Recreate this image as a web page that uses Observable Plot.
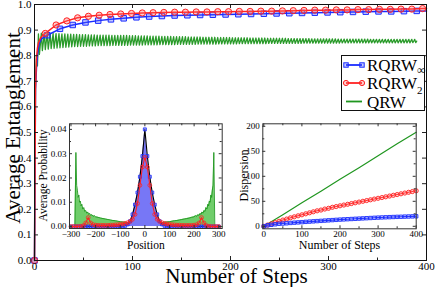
<!DOCTYPE html>
<html><head><meta charset="utf-8">
<script src="https://cdn.jsdelivr.net/npm/d3@7"></script>
<script src="https://cdn.jsdelivr.net/npm/@observablehq/plot@0.6"></script>
<style>
body{margin:0;background:#fff;}
#wrap{position:relative;width:436px;height:287px;overflow:hidden;}
#wrap > svg, #wrap > div{position:absolute;}
</style></head><body><div id="wrap"></div>
<script>
// ---------------- main chart data ----------------
const rInfSteps = [0,1,2,3,4,5,7,10,13,26,39,52,65,78,91,104,117,130,143,156,169,182,195,208,221,234,247,260,273,286,299,312,325,338,351,364,377,390,400];
const rInfVals  = [0,0.67,0.75,0.80,0.83,0.85,0.865,0.874,0.880,0.905,0.920,0.930,0.937,0.942,0.946,0.950,0.953,0.955,0.957,0.958,0.959,0.960,0.961,0.962,0.963,0.964,0.965,0.966,0.967,0.968,0.969,0.970,0.971,0.972,0.973,0.973,0.974,0.975,0.975];
const rInfMarkerSteps = [0,13,26,39,52,65,78,91,104,117,130,143,156,169,182,195,208,221,234,247,260,273,286,299,312,325,338,351,364,377,390];

const r2Steps = [0,1,2,3,4,6,8,11,22,33,44,55,66,77,88,99,110,121,132,143,154,165,176,187,198,209,220,231,242,253,264,275,286,297,308,319,330,341,352,363,374,385,396,400];
const r2Vals  = [0,0.67,0.79,0.83,0.85,0.868,0.878,0.887,0.920,0.936,0.948,0.954,0.958,0.961,0.963,0.965,0.967,0.968,0.969,0.970,0.970,0.971,0.971,0.972,0.972,0.973,0.973,0.974,0.974,0.975,0.976,0.977,0.978,0.978,0.979,0.979,0.980,0.980,0.981,0.981,0.982,0.982,0.984,0.984];
const r2MarkerSteps = [0,11,22,33,44,55,66,77,88,99,110,121,132,143,154,165,176,187,198,209,220,231,242,253,264,275,286,297,308,319,330,341,352,363,374,385,396];

// QRW entanglement, one value per step 0..400 (thousandths)
const qrwVals = [
0,700,800,760,885,805,845,888,820,852,
889,824,855,888,826,856,887,828,857,887,829,857,886,830,858,886,831,858,885,832,
858,885,833,858,884,834,859,884,835,859,883,836,859,883,836,859,882,837,859,882,
837,859,882,837,859,881,838,859,881,838,859,881,838,859,880,839,859,880,839,859,
880,839,859,880,839,859,880,839,859,879,840,859,879,840,859,879,840,859,879,840,
858,879,840,858,879,840,858,878,841,858,878,841,858,878,841,858,877,841,858,877,
841,858,877,842,858,877,842,858,876,842,858,876,842,858,876,842,858,876,843,858,
875,843,858,875,843,858,875,843,858,875,843,858,874,843,858,874,844,858,874,844,
858,874,844,858,874,844,858,873,844,858,873,844,858,873,844,858,873,845,858,873,
845,858,872,845,858,872,845,858,872,845,858,872,845,857,872,845,857,871,846,857,
871,846,857,871,846,857,871,846,857,871,846,857,870,846,857,870,846,857,870,847,
857,870,847,857,870,847,857,870,847,857,869,847,857,869,847,857,869,847,857,869,
847,857,869,847,857,869,847,857,868,848,857,868,848,857,868,848,857,868,848,857,
868,848,857,868,848,857,868,848,857,867,848,857,867,848,857,867,848,857,867,848,
857,867,848,857,867,849,857,867,849,857,867,849,857,866,849,857,866,849,857,866,
849,857,866,849,857,866,849,857,866,849,857,866,849,857,866,849,857,866,849,857,
865,849,857,865,850,857,865,850,857,865,850,857,865,850,857,865,850,857,865,850,
857,865,850,857,865,850,857,865,850,857,865,850,857,864,850,857,864,850,857,864,
850,857,864,850,857,864,850,857,864,850,857,864,850,857,864,850,857,864,850,857,
864,850,857,864,850,857,864,850,857,864,850,857,864,850,857,864,851,857,864,851,
857];

const mainXTicks = [0,100,200,300,400];
const mainXMinor = [50,150,250,350];
const mainYTicks = [0,0.1,0.2,0.3,0.4,0.5,0.6,0.7,0.8,0.9,1];

// ---------------- left inset: average probability vs position ----------------
const qrwPos  = [-306,-290,-284,-280,-277,-274,-271,-268,-265,-262,-259,-256,-252,-248,-244,-240,-236,-232,-228,-224,-220,-215,-210,-205,-200,-190,-180,-170,-160,-150,-140,-130,-120,-110,-100,-90,-80,-70,-60,-50,-40,-30,-20,-10,0,10,20,30,40,50,60,70,80,90,100,110,120,130,140,150,160,170,180,190,200,205,210,215,220,224,228,232,236,240,244,248,252,256,259,262,265,268,271,274,277,280,284,290,314];
const qrwProb = [0,0,0,305,170,150,120,130,100,105,85,92,72,78,62,66,55,60,50,54,46,49,42,45,40,38,35,33,31,29,27,25,24,22,20,19,18,17,16,16,15,15,15,15,15,15,15,15,15,16,16,17,18,19,20,22,24,25,27,29,31,33,35,38,40,45,42,49,46,54,50,60,55,66,62,78,72,92,85,105,100,130,120,150,170,305,0,0,0];

const probPos = [-300,-290,-280,-270,-260,-250,-240,-230,-220,-210,-200,-190,-180,-170,-160,-150,-140,-130,-120,-110,-100,-90,-80,-70,-60,-50,-40,-30,-20,-10,0,10,20,30,40,50,60,70,80,90,100,110,120,130,140,150,160,170,180,190,200,210,220,230,240,250,260,270,280,290,300];
const rInfProb = [0,0,0,0,0,0,0,0,0,0,0,0,0,0,0,0,0,0,0,0,0,1,3,9,22,50,90,140,205,290,400,290,205,140,90,50,22,9,3,1,0,0,0,0,0,0,0,0,0,0,0,0,0,0,0,0,0,0,0,0,0];
const r2Prob   = [0,0,0,0,1,4,15,37,15,8,6,5,5,5,5,5,6,6,7,8,9,11,13,16,21,30,50,95,170,245,285,245,170,95,50,30,21,16,13,11,9,8,7,6,6,5,5,5,5,5,6,8,15,37,15,4,1,0,0,0,0];
const probYTicks = [0,0.01,0.02,0.03,0.04];
const probYMinor = [0.005,0.015,0.025,0.035];
const probXTicks = [-300,-200,-100,0,100,200,300];
const probXMinor = [-250,-150,-50,50,150,250];

// ---------------- right inset: dispersion vs steps ----------------
const dispQrwSteps = [0,50,100,150,200,250,300,350,400];
const dispQrwVals  = [0,23,47,70,94,117,141,165,188];
const dispSteps = [0,10,20,30,40,50,60,70,80,90,100,110,120,130,140,150,160,170,180,190,200,210,220,230,240,250,260,270,280,290,300,310,320,330,340,350,360,370,380,390,400];
const dispR2   = [0,2.5,5,7.5,10,12.5,14.5,17,19,21,23,25,27,29,31,32.5,34.5,36,38,39.5,41,42.5,44,45.5,47,48.5,50,51.5,53,54.5,56,57.5,59,60.5,62,63.5,65,66.5,68,69.5,71];
const dispRInf = [0,2,3,4,5,5.5,6,6.7,7.3,7.8,8.3,8.9,9.4,9.9,10.4,10.9,11.4,11.9,12.4,12.9,13.4,13.8,14.2,14.6,15,15.4,15.8,16.2,16.6,17,17.4,17.7,18,18.3,18.6,18.9,19.1,19.4,19.6,19.8,20];
const dispYTicks = [0,50,100,150,200];
const dispYMinor = [25,75,125,175];
const dispXTicks = [0,100,200,300,400];
const dispXMinor = [50,150,250,350];

// legend
const legendLabels = [["RQRW","∞"],["RQRW","2"],["QRW",""]];

// ---------------- styling ----------------
const SERIF = "'Liberation Serif','Times New Roman',serif";
const BLUE = "#1a2cff", RED = "#ff2222", GREEN = "#1f961f";
const zip = (xs, ys, f = v => v) => xs.map((x, i) => ({x, y: f(ys[i])}));
const pick = (xs, ys, keep) => zip(xs, ys).filter(d => keep.includes(d.x));

function frameTicks(xdom, ydom, w, h, xMaj, xMin, yMaj, yMin, L, l, color) {
  const lx = v => v * (xdom[1] - xdom[0]) / w, ly = v => v * (ydom[1] - ydom[0]) / h;
  const st = {stroke: color, strokeWidth: 1};
  return [
    Plot.ruleX(xMaj, {x: d => d, y1: ydom[0], y2: ydom[0] + ly(L), ...st}),
    Plot.ruleX(xMaj, {x: d => d, y1: ydom[1] - ly(L), y2: ydom[1], ...st}),
    Plot.ruleX(xMin, {x: d => d, y1: ydom[0], y2: ydom[0] + ly(l), ...st}),
    Plot.ruleX(xMin, {x: d => d, y1: ydom[1] - ly(l), y2: ydom[1], ...st}),
    Plot.ruleY(yMaj, {y: d => d, x1: xdom[0], x2: xdom[0] + lx(L), ...st}),
    Plot.ruleY(yMaj, {y: d => d, x1: xdom[1] - lx(L), x2: xdom[1], ...st}),
    Plot.ruleY(yMin, {y: d => d, x1: xdom[0], x2: xdom[0] + lx(l), ...st}),
    Plot.ruleY(yMin, {y: d => d, x1: xdom[1] - lx(l), x2: xdom[1], ...st})
  ];
}
// vertical (rotated) title added to a Plot svg
function vTitle(svg, label, x, y, size) {
  d3.select(svg).append("text")
    .attr("transform", `translate(${x},${y}) rotate(-90)`)
    .attr("text-anchor", "middle").attr("dy", "0.32em")
    .attr("font-family", SERIF).attr("font-size", size).attr("fill", "black")
    .text(label);
}

const wrap = document.getElementById("wrap");

// ---------------- main plot ----------------
{
  const W = 436, H = 287, mL = 34, mR = 10, mT = 4, mB = 27;
  const xdom = [0, 400], ydom = [0, 1];
  const qrw = zip(d3.range(qrwVals.length), qrwVals, v => v / 1000);
  const rInf = zip(rInfSteps, rInfVals), r2 = zip(r2Steps, r2Vals);
  const p = Plot.plot({
    width: W, height: H, marginLeft: mL, marginRight: mR, marginTop: mT, marginBottom: mB,
    style: {fontFamily: SERIF, fontSize: "11px", background: "none", color: "black", overflow: "visible"},
    x: {domain: xdom}, y: {domain: ydom},
    marks: [
      Plot.line(qrw, {x: "x", y: "y", stroke: GREEN, strokeWidth: 1.3, strokeOpacity: 0.95}),
      Plot.line(rInf, {x: "x", y: "y", stroke: BLUE, strokeWidth: 1.5}),
      Plot.dot(pick(rInfSteps, rInfVals, rInfMarkerSteps), {x: "x", y: "y", symbol: "square", r: 3.1, stroke: BLUE, strokeWidth: 1, fill: "rgba(90,100,255,0.35)"}),
      Plot.line(r2, {x: "x", y: "y", stroke: RED, strokeWidth: 1.5}),
      Plot.dot(pick(r2Steps, r2Vals, r2MarkerSteps), {x: "x", y: "y", symbol: "circle", r: 3.1, stroke: RED, strokeWidth: 1, fill: "rgba(255,110,110,0.35)"}),
      ...frameTicks(xdom, ydom, W - mL - mR, H - mT - mB, mainXTicks, mainXMinor, mainYTicks, [], 4, 2.5, "#222"),
      Plot.frame({stroke: "#111"}),
      Plot.axisX(mainXTicks, {tickSize: 0, tickPadding: 2, label: null, fontSize: 11}),
      Plot.axisY(mainYTicks, {tickSize: 0, tickPadding: 3, label: null, fontSize: 11}),
      Plot.text(["Number of Steps"], {frameAnchor: "bottom", lineAnchor: "middle", dy: 16, dx: 6, fontSize: 21})
    ]
  });
  vTitle(p, "Average Entanglement", 13, 128, 21);
  p.style.left = "0px"; p.style.top = "0px";
  wrap.appendChild(p);
}

// ---------------- left inset ----------------
{
  const L0 = 25, T0 = 113, W = 200, H = 140;
  const mL = 44, mR = 3.3, mT = 10.3, mB = 25;
  const xdom = [-306, 314], ydom = [-0.0008, 0.0423];
  const g = zip(qrwPos, qrwProb, v => v / 10000);
  const b = zip(probPos, rInfProb, v => v / 10000);
  const r = zip(probPos, r2Prob, v => v / 10000);
  const p = Plot.plot({
    width: W, height: H, marginLeft: mL, marginRight: mR, marginTop: mT, marginBottom: mB,
    style: {fontFamily: SERIF, fontSize: "9px", background: "none", color: "black", overflow: "visible"},
    x: {domain: xdom}, y: {domain: ydom},
    marks: [
      Plot.areaY(g, {x: "x", y: "y", fill: "#5fc85a", fillOpacity: 0.9}),
      Plot.line(g, {x: "x", y: "y", stroke: GREEN, strokeWidth: 0.9}),
      Plot.areaY(b, {x: "x", y: "y", fill: "#7777f6"}),
      Plot.line(b, {x: "x", y: "y", stroke: "#000", strokeWidth: 1.1}),
      Plot.dot(b, {x: "x", y: "y", symbol: "square", r: 1.7, stroke: BLUE, strokeWidth: 0.8, fill: "rgba(90,100,255,0.5)"}),
      Plot.line(r, {x: "x", y: "y", stroke: RED, strokeWidth: 1.1}),
      Plot.dot(r, {x: "x", y: "y", symbol: "circle", r: 1.9, stroke: RED, strokeWidth: 0.8, fill: "none"}),
      ...frameTicks(xdom, ydom, W - mL - mR, H - mT - mB, probXTicks, probXMinor, probYTicks, probYMinor, 3, 2, "#333"),
      Plot.frame({stroke: "#333"}),
      Plot.axisX(probXTicks, {tickSize: 0, tickPadding: 2, label: null}),
      Plot.axisY(probYTicks, {tickSize: 0, tickPadding: 3, label: null}),
      Plot.text(["Position"], {frameAnchor: "bottom", lineAnchor: "middle", dy: 16.5, fontSize: 11.5})
    ]
  });
  vTitle(p, "Average Probability", 18.3, 62.5, 11.5);
  p.style.left = L0 + "px"; p.style.top = T0 + "px";
  wrap.appendChild(p);
}

// ---------------- right inset ----------------
{
  const L0 = 236, T0 = 113, W = 185, H = 140;
  const mL = 26.3, mR = 5.3, mT = 10.3, mB = 24.7;
  const xdom = [-2.6, 400], ydom = [-5, 205];
  const g = zip(dispQrwSteps, dispQrwVals);
  const r = zip(dispSteps, dispR2), b = zip(dispSteps, dispRInf);
  const p = Plot.plot({
    width: W, height: H, marginLeft: mL, marginRight: mR, marginTop: mT, marginBottom: mB,
    style: {fontFamily: SERIF, fontSize: "9px", background: "none", color: "black", overflow: "visible"},
    x: {domain: xdom}, y: {domain: ydom},
    marks: [
      Plot.line(g, {x: "x", y: "y", stroke: GREEN, strokeWidth: 1.2}),
      Plot.line(r, {x: "x", y: "y", stroke: RED, strokeWidth: 1.1}),
      Plot.dot(r, {x: "x", y: "y", symbol: "circle", r: 2.1, stroke: RED, strokeWidth: 0.9, fill: "rgba(255,110,110,0.3)"}),
      Plot.line(b, {x: "x", y: "y", stroke: BLUE, strokeWidth: 1.1}),
      Plot.dot(b, {x: "x", y: "y", symbol: "square", r: 1.9, stroke: BLUE, strokeWidth: 0.9, fill: "rgba(90,100,255,0.3)"}),
      ...frameTicks(xdom, ydom, W - mL - mR, H - mT - mB, dispXTicks, dispXMinor, dispYTicks, dispYMinor, 3, 2, "#333"),
      Plot.frame({stroke: "#333"}),
      Plot.axisX(dispXTicks, {tickSize: 0, tickPadding: 2, label: null}),
      Plot.axisY(dispYTicks, {tickSize: 0, tickPadding: 3, label: null}),
      Plot.text(["Number of Steps"], {frameAnchor: "bottom", lineAnchor: "middle", dy: 16.5, fontSize: 12})
    ]
  });
  vTitle(p, "Dispersion", 8, 62.5, 12);
  p.style.left = L0 + "px"; p.style.top = T0 + "px";
  wrap.appendChild(p);
}

// ---------------- legend (inside main plot area) ----------------
{
  const box = d3.select(wrap).append("svg")
    .attr("width", 86).attr("height", 58)
    .style("left", "340px").style("top", "54px").style("position", "absolute");
  box.append("rect").attr("x", 1.5).attr("y", 1.5).attr("width", 83).attr("height", 55)
    .attr("fill", "#fff").attr("stroke", "#111").attr("stroke-width", 1);
  const rows = [11, 29, 47.5];
  const cols = [BLUE, RED, GREEN];
  legendLabels.forEach(([main, sub], i) => {
    const y = rows[i];
    box.append("line").attr("x1", 6).attr("x2", 22).attr("y1", y).attr("y2", y)
      .attr("stroke", cols[i]).attr("stroke-width", 1.8);
    if (i === 0) [6, 22].forEach(x => box.append("rect").attr("x", x - 2.2).attr("y", y - 2.2).attr("width", 4.4).attr("height", 4.4)
      .attr("fill", "rgba(90,100,255,0.35)").attr("stroke", BLUE).attr("stroke-width", 1));
    if (i === 1) [6, 22].forEach(x => box.append("circle").attr("cx", x).attr("cy", y).attr("r", 2.6)
      .attr("fill", "rgba(255,110,110,0.35)").attr("stroke", RED).attr("stroke-width", 1));
    const t = box.append("text").attr("x", 27).attr("y", y + 6)
      .attr("font-family", SERIF).attr("font-size", 17).text(main);
    if (sub) t.append("tspan").attr("dy", i === 0 ? 3 : 5).attr("font-size", i === 0 ? 12 : 11).text(sub);
  });
}
</script></body></html>
